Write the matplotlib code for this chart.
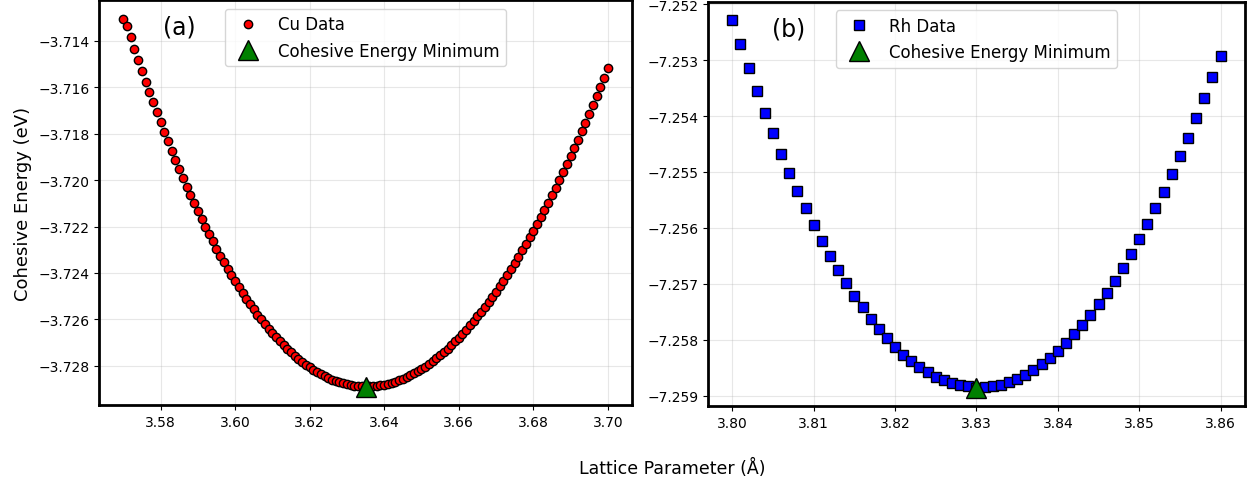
"""
plot.py — cohesive energy vs lattice parameter for Cu (a) and Rh (b)
Values read off the reference figure.
"""

import numpy as np
import matplotlib
matplotlib.use('Agg')
import matplotlib.pyplot as plt

# ── DATA ──────────────────────────────────────────────────────────────────────
cu_lattice = [
    3.570, 3.571, 3.572, 3.573, 3.574, 3.575, 3.576, 3.577, 3.578, 3.579,
    3.580, 3.581, 3.582, 3.583, 3.584, 3.585, 3.586, 3.587, 3.588, 3.589,
    3.590, 3.591, 3.592, 3.593, 3.594, 3.595, 3.596, 3.597, 3.598, 3.599,
    3.600, 3.601, 3.602, 3.603, 3.604, 3.605, 3.606, 3.607, 3.608, 3.609,
    3.610, 3.611, 3.612, 3.613, 3.614, 3.615, 3.616, 3.617, 3.618, 3.619,
    3.620, 3.621, 3.622, 3.623, 3.624, 3.625, 3.626, 3.627, 3.628, 3.629,
    3.630, 3.631, 3.632, 3.633, 3.634, 3.635, 3.636, 3.637, 3.638, 3.639,
    3.640, 3.641, 3.642, 3.643, 3.644, 3.645, 3.646, 3.647, 3.648, 3.649,
    3.650, 3.651, 3.652, 3.653, 3.654, 3.655, 3.656, 3.657, 3.658, 3.659,
    3.660, 3.661, 3.662, 3.663, 3.664, 3.665, 3.666, 3.667, 3.668, 3.669,
    3.670, 3.671, 3.672, 3.673, 3.674, 3.675, 3.676, 3.677, 3.678, 3.679,
    3.680, 3.681, 3.682, 3.683, 3.684, 3.685, 3.686, 3.687, 3.688, 3.689,
    3.690, 3.691, 3.692, 3.693, 3.694, 3.695, 3.696, 3.697, 3.698, 3.699,
    3.700,
]
cu_energy = [
    -3.71306, -3.71335, -3.71385, -3.71434, -3.71482, -3.71529, -3.71576, -3.71621, -3.71666, -3.71709,
    -3.71751, -3.71793, -3.71834, -3.71875, -3.71914, -3.71953, -3.71991, -3.72028, -3.72064, -3.72099,
    -3.72134, -3.72168, -3.72201, -3.72233, -3.72264, -3.72295, -3.72325, -3.72354, -3.72382, -3.72409,
    -3.72436, -3.72462, -3.72487, -3.72511, -3.72534, -3.72557, -3.72579, -3.72600, -3.72621, -3.72640,
    -3.72659, -3.72677, -3.72695, -3.72711, -3.72727, -3.72742, -3.72756, -3.72770, -3.72783, -3.72795,
    -3.72806, -3.72817, -3.72827, -3.72836, -3.72844, -3.72852, -3.72859, -3.72865, -3.72871, -3.72875,
    -3.72879, -3.72883, -3.72885, -3.72887, -3.72888, -3.72889, -3.72888, -3.72887, -3.72886, -3.72884,
    -3.72881, -3.72877, -3.72873, -3.72868, -3.72862, -3.72856, -3.72849, -3.72841, -3.72832, -3.72823,
    -3.72813, -3.72803, -3.72792, -3.72780, -3.72767, -3.72754, -3.72741, -3.72726, -3.72711, -3.72695,
    -3.72679, -3.72662, -3.72644, -3.72626, -3.72607, -3.72587, -3.72567, -3.72546, -3.72525, -3.72503,
    -3.72480, -3.72457, -3.72433, -3.72408, -3.72383, -3.72357, -3.72330, -3.72303, -3.72276, -3.72247,
    -3.72218, -3.72189, -3.72159, -3.72128, -3.72097, -3.72065, -3.72033, -3.72000, -3.71966, -3.71932,
    -3.71897, -3.71862, -3.71826, -3.71790, -3.71753, -3.71715, -3.71677, -3.71638, -3.71599, -3.71559,
    -3.71519,
]

rh_lattice = [
    3.800, 3.801, 3.802, 3.803, 3.804, 3.805, 3.806, 3.807, 3.808, 3.809,
    3.810, 3.811, 3.812, 3.813, 3.814, 3.815, 3.816, 3.817, 3.818, 3.819,
    3.820, 3.821, 3.822, 3.823, 3.824, 3.825, 3.826, 3.827, 3.828, 3.829,
    3.830, 3.831, 3.832, 3.833, 3.834, 3.835, 3.836, 3.837, 3.838, 3.839,
    3.840, 3.841, 3.842, 3.843, 3.844, 3.845, 3.846, 3.847, 3.848, 3.849,
    3.850, 3.851, 3.852, 3.853, 3.854, 3.855, 3.856, 3.857, 3.858, 3.859,
    3.860,
]
rh_energy = [
    -7.25229, -7.25272, -7.25314, -7.25355, -7.25394, -7.25431, -7.25467, -7.25501, -7.25534, -7.25565,
    -7.25595, -7.25623, -7.25650, -7.25675, -7.25699, -7.25721, -7.25742, -7.25762, -7.25780, -7.25797,
    -7.25812, -7.25826, -7.25838, -7.25849, -7.25858, -7.25866, -7.25872, -7.25877, -7.25881, -7.25883,
    -7.25885, -7.25884, -7.25883, -7.25880, -7.25875, -7.25869, -7.25862, -7.25853, -7.25843, -7.25832,
    -7.25819, -7.25805, -7.25790, -7.25773, -7.25755, -7.25736, -7.25716, -7.25694, -7.25671, -7.25646,
    -7.25620, -7.25593, -7.25565, -7.25535, -7.25504, -7.25472, -7.25439, -7.25404, -7.25368, -7.25331,
    -7.25292,
]

# ── STYLE ─────────────────────────────────────────────────────────────────────
CU_RED   = '#ff0000'
RH_BLUE  = '#0000ff'
MIN_GRN  = '#008000'

fig = plt.figure(figsize=(12.55, 4.85), dpi=100)
ax1 = fig.add_axes([0.0789, 0.163, 0.4247, 0.834])
ax2 = fig.add_axes([0.5641, 0.161, 0.4279, 0.833])


def panel(ax, x, y, marker, color, ms, label, tag):
    x = np.asarray(x); y = np.asarray(y)
    i_min = int(np.argmin(y))
    ax.plot(x, y, linestyle='none', marker=marker, ms=ms, color=color,
            mec='black', mew=1.0, label=label, zorder=2)
    ax.plot(x[i_min], y[i_min], linestyle='none', marker='^', ms=15,
            color=MIN_GRN, mec='black', mew=1.0,
            label='Cohesive Energy Minimum', zorder=3)
    ax.grid(True, alpha=0.3)
    ax.set_axisbelow(True)
    for s in ax.spines.values():
        s.set_linewidth(2)
    ax.tick_params(labelsize=10)
    ax.legend(loc='upper center', fontsize=12)
    ax.text(0.12, 0.935, tag, transform=ax.transAxes, fontsize=17,
            ha='left', va='center')


# ── (a) Cu ────────────────────────────────────────────────────────────────────
panel(ax1, cu_lattice, cu_energy, 'o', CU_RED, 6, 'Cu Data', '(a)')
ax1.set_ylabel('Cohesive Energy (eV)', fontsize=13)

# ── (b) Rh ────────────────────────────────────────────────────────────────────
panel(ax2, rh_lattice, rh_energy, 's', RH_BLUE, 7, 'Rh Data', '(b)')

fig.text(0.5355, 0.035, 'Lattice Parameter (Å)', ha='center', va='center',
         fontsize=12.5)

plt.savefig('out.png', dpi=100)
